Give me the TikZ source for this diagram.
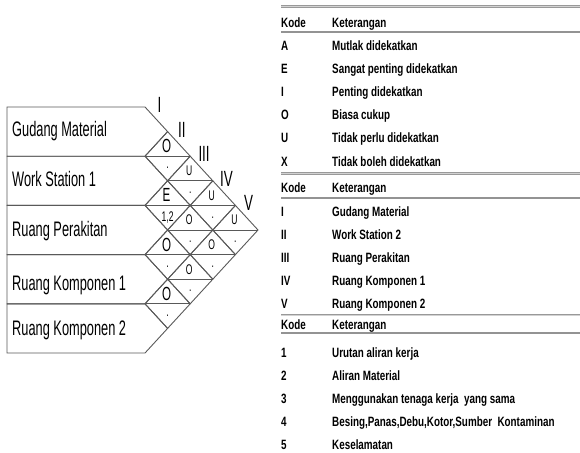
\documentclass[tikz,border=0pt]{standalone}
\usepackage{fontspec}
\setmainfont{Liberation Sans}
\newfontfamily\chartfont{Liberation Sans}[FakeStretch=0.61]
\newfontfamily\tabfont{Liberation Sans}[FakeStretch=0.73]
\usetikzlibrary{shapes.geometric,calc}
\tikzset{
room/.style={draw=black!65, line width=0.9pt},
roomname/.style={anchor=base west, inner sep=0pt, font=\chartfont\fontsize{21}{21}\selectfont},
pair/.style={diamond, draw=black!65, line width=0.9pt, minimum width=45.2pt,
  minimum height=49.2pt, inner sep=0pt, outer sep=0pt},
bigcode/.style={inner sep=0pt, font=\chartfont\fontsize{19}{19}\selectfont},
code/.style={inner sep=0pt, font=\chartfont\fontsize{14}{14}\selectfont},
numeral/.style={inner sep=0pt, font=\chartfont\fontsize{22}{22}\selectfont},
tabtext/.style={anchor=base west, inner sep=0pt, font=\tabfont\bfseries\fontsize{13.5}{13.5}\selectfont},
tabrule/.style={draw=gray!85, line width=2pt},
dblrule/.style={draw=gray!80, line width=1.1pt, double=gray!35, double distance=0.7pt},
}

\begin{document}
\begin{tikzpicture}[x=1pt, y=-1pt]
\useasboundingbox (0,0) rectangle (580,452);

% activity relationship chart
\foreach \name/\base [count=\k] in {Gudang Material/136.7, Work Station 1/186.7,
  Ruang Perakitan/236.7, Ruang Komponen 1/290, Ruang Komponen 2/335}
{
  \pgfmathsetmacro{\top}{107+(\k-1)*49.2}
  \pgfmathsetmacro{\mid}{\top+24.6}
  \pgfmathsetmacro{\bot}{\top+49.2}
  \draw[room] (7,\top) -- (145,\top) -- (167.6,\mid) -- (145,\bot) -- (7,\bot) -- cycle;
  \node[roomname] (r\k) at (12,\base) {\name};
}

\foreach \i/\j/\up/\dn/\sty in {1/2/O/./bigcode, 1/3/U/./code, 1/4/U/./code,
  1/5/U/./code, 2/3/E/{1,2}/bigcode, 2/4/O/./code, 2/5/O/./code,
  3/4/O/./bigcode, 3/5/O/./code, 4/5/O/./bigcode}
{
  \node[pair] (p\i\j) at ({145+(\j-\i)*22.6},{107+(\i+\j-1)*24.6}) {};
  \draw[room] (p\i\j.west) -- (p\i\j.east);
  \node[\sty] (u\i\j) at ($(p\i\j)+(-1,-10)$) {\up};
  \node[code] (d\i\j) at ($(p\i\j)+(0,12)$) {\dn};
}

\foreach \rom [count=\k] in {I,II,III,IV,V}
  \node[numeral] (c\k) at ({159.5+(\k-1)*22.3},{105+(\k-1)*24.5}) {\rom};

% keterangan tables
\draw[dblrule] (281,6.5) -- (580,6.5);
\node[tabtext] (kode1) at (281,27.7) {Kode};
\node[tabtext] (ket1) at (332,27.7) {Keterangan};
\draw[tabrule] (281,32.5) -- (580,32.5);
\foreach \kode/\ket [count=\n] in {A/Mutlak didekatkan, E/Sangat penting didekatkan,
  I/Penting didekatkan, O/Biasa cukup, U/Tidak perlu didekatkan, X/Tidak boleh didekatkan}
{
  \node[tabtext] (ka\n) at (281,{26.9+\n*23.2}) {\kode};
  \node[tabtext] (kb\n) at (332,{26.9+\n*23.2}) {\ket};
}
\draw[dblrule] (281,173.5) -- (580,173.5);
\node[tabtext] (kode2) at (281,192.7) {Kode};
\node[tabtext] (ket2) at (332,192.7) {Keterangan};
\draw[tabrule] (281,198) -- (580,198);
\foreach \kode/\ket [count=\n] in {I/Gudang Material, II/Work Station 2,
  III/Ruang Perakitan, IV/Ruang Komponen 1, V/Ruang Komponen 2}
{
  \node[tabtext] (kc\n) at (281,{193.7+\n*23}) {\kode};
  \node[tabtext] (kd\n) at (332,{193.7+\n*23}) {\ket};
}
\draw[dblrule] (281,315) -- (580,315);
\node[tabtext] (kode3) at (281,329.7) {Kode};
\node[tabtext] (ket3) at (332,329.7) {Keterangan};
\draw[tabrule] (281,333) -- (580,333);
\foreach \kode/\ket [count=\n] in {1/Urutan aliran kerja, 2/Aliran Material,
  3/Menggunakan tenaga kerja\ \ yang sama, 4/{Besing,Panas,Debu,Kotor,Sumber\ \ Kontaminan},
  5/Keselamatan}
{
  \node[tabtext] (ke\n) at (281,{334.7+\n*23}) {\kode};
  \node[tabtext] (kf\n) at (332,{334.7+\n*23}) {\ket};
}
\end{tikzpicture}
\end{document}
